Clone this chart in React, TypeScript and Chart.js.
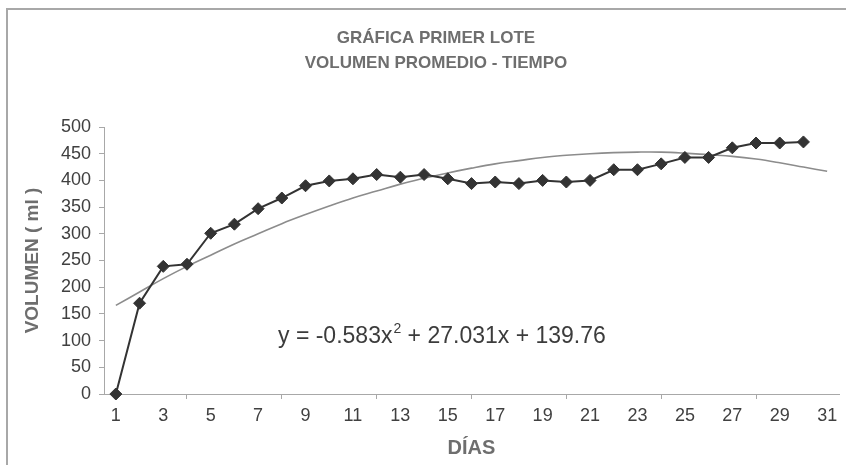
import React, { useEffect, useRef } from "react";
import { Chart, registerables } from "chart.js";

Chart.register(...registerables);

const days: string[] = [
  "1","2","3","4","5","6","7","8","9","10","11","12","13","14","15","16",
  "17","18","19","20","21","22","23","24","25","26","27","28","29","30","31",
];
const volumen: number[] = [
  0, 170, 239, 243, 301, 318, 347, 367, 390, 399, 403, 411, 406, 411, 403,
  394, 397, 394, 400, 397, 400, 420, 420, 431, 443, 443, 461, 470, 470, 472,
];
const tendencia: number[] = [
  166, 191, 216, 239, 260, 281, 300, 319, 336, 352, 367, 380, 393, 404, 414,
  423, 431, 437, 443, 447, 450, 452, 453, 453, 451, 448, 445, 440, 433, 425, 417,
];
const titleLines: string[] = ["GRÁFICA PRIMER LOTE", "VOLUMEN PROMEDIO - TIEMPO"];
const equationParts: string[] = ["y = -0.583x", "2", " + 27.031x + 139.76"];

const FONT = '"Liberation Sans", Arial, sans-serif';

const decorPlugin = {
  id: "decor",
  beforeDraw(chart: any) {
    const ctx = chart.ctx;
    ctx.save();
    ctx.fillStyle = "#ffffff";
    ctx.fillRect(0, 0, chart.width, chart.height);
    ctx.strokeStyle = "#a8a8a8";
    ctx.lineWidth = 2;
    ctx.beginPath();
    ctx.moveTo(7, chart.height + 5);
    ctx.lineTo(7, 9);
    ctx.lineTo(chart.width + 5, 9);
    ctx.stroke();
    ctx.restore();
  },
  afterDraw(chart: any) {
    const ctx = chart.ctx;
    ctx.save();
    ctx.fillStyle = "#6e6e6e";
    ctx.font = `bold 17px ${FONT}`;
    ctx.textAlign = "center";
    ctx.textBaseline = "middle";
    ctx.fillText(titleLines[0], 436, 38);
    ctx.fillText(titleLines[1], 436, 63);

    ctx.fillStyle = "#3c3c3c";
    ctx.textAlign = "left";
    ctx.textBaseline = "alphabetic";
    let x = 278;
    ctx.font = `23px ${FONT}`;
    ctx.fillText(equationParts[0], x, 343);
    x += ctx.measureText(equationParts[0]).width + 1;
    ctx.font = `14px ${FONT}`;
    ctx.fillText(equationParts[1], x, 333);
    x += ctx.measureText(equationParts[1]).width;
    ctx.font = `23px ${FONT}`;
    ctx.fillText(equationParts[2], x, 343);
    ctx.restore();
  },
};

export default function App() {
  const ref = useRef<HTMLCanvasElement | null>(null);
  useEffect(() => {
    if (!ref.current) return;
    const chart = new Chart(ref.current, {
      type: "line",
      data: {
        labels: days,
        datasets: [
          {
            label: "Volumen",
            data: volumen,
            borderColor: "#333333",
            backgroundColor: "#333333",
            borderWidth: 2,
            pointStyle: "rectRot",
            pointRadius: 6,
            pointBorderWidth: 1,
            pointBackgroundColor: "#333333",
            pointBorderColor: "#333333",
            tension: 0,
            clip: false as any,
            order: 1,
          },
          {
            label: "Tendencia",
            data: tendencia,
            borderColor: "#8c8c8c",
            borderWidth: 1.6,
            pointRadius: 0,
            tension: 0.4,
            clip: false as any,
            order: 2,
          },
        ],
      },
      options: {
        animation: false,
        responsive: true,
        maintainAspectRatio: false,
        layout: { padding: { top: 127, left: 0, right: 0, bottom: 0 } },
        plugins: {
          legend: { display: false },
          tooltip: { enabled: false },
          title: { display: false },
        },
        scales: {
          x: {
            type: "category",
            offset: true,
            grid: {
              display: true,
              offset: true,
              drawOnChartArea: false,
              drawTicks: true,
              tickLength: 5,
              color: "#a8a8a8",
            },
            border: { display: true, color: "#a8a8a8", width: 1 },
            ticks: {
              autoSkip: true,
              maxTicksLimit: 16,
              maxRotation: 0,
              minRotation: 0,
              padding: 6,
              color: "#404040",
              font: { family: FONT, size: 18 },
            },
            title: {
              display: true,
              text: "DÍAS",
              color: "#6e6e6e",
              font: { family: FONT, size: 20, weight: "bold" },
              padding: { top: 0, bottom: 5 },
            },
            afterFit(scale: any) {
              scale.height = 71;
            },
          },
          y: {
            min: 0,
            max: 500,
            grid: {
              display: true,
              drawOnChartArea: false,
              drawTicks: true,
              tickLength: 5,
              color: "#a8a8a8",
            },
            border: { display: true, color: "#a8a8a8", width: 1 },
            ticks: {
              stepSize: 50,
              padding: 8,
              color: "#404040",
              font: { family: FONT, size: 18 },
            },
            title: {
              display: true,
              text: "VOLUMEN ( ml )",
              color: "#6e6e6e",
              font: { family: FONT, size: 19, weight: "bold" },
              padding: { top: 21, bottom: 0 },
            },
            afterFit(scale: any) {
              scale.width = 104;
            },
          },
        },
      },
      plugins: [decorPlugin],
    });
    return () => chart.destroy();
  }, []);
  return (
    <div style={{ position: "fixed", left: 0, top: 0, width: 846, height: 465, background: "#fff" }}>
      <canvas ref={ref} />
    </div>
  );
}
